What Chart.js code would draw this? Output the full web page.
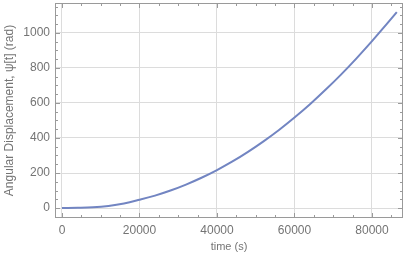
<!DOCTYPE html>
<html>
<head>
<meta charset="utf-8">
<script src="https://cdn.jsdelivr.net/npm/chart.js@4.4.1/dist/chart.umd.min.js"></script>
<style>
    html, body { margin: 0; padding: 0; background: #fff; }
    #wrap { width: 409px; height: 254px; }
</style>
</head>
<body>
<div id="wrap"><canvas id="chart" width="409" height="254"></canvas></div>
<script>
const timeValues = [0, 4000, 8000, 12000, 16000, 20000, 24000, 28000, 32000, 36000, 40000, 44000, 48000, 52000, 56000, 60000, 64000, 68000, 72000, 76000, 80000, 84000, 86400];
const psiValues = [0, 1, 4, 12, 26, 47, 71, 100, 134, 173, 217, 266, 321, 381, 446, 517, 593, 675, 762, 855, 953, 1056, 1119];
const xTickValues = [0, 20000, 40000, 60000, 80000];
const yTickValues = [0, 200, 400, 600, 800, 1000];
const xMinorStep = 5000;
const yMinorStep = 50;

const axisFont = "'Liberation Sans', Arial, sans-serif";
const frameColor = '#9a9a9a';
const gridColor = '#dcdcdc';
const textColor = '#747474';

const keepTicks = (values) => (scale) => {
    scale.ticks = values.map((v) => ({ value: v }));
};

// mathematica style frame with inward ticks on all four sides
const framePlugin = {
    id: 'frame',
    afterDatasetsDraw(chart) {
        const { ctx, chartArea: a, scales } = chart;
        ctx.save();
        ctx.strokeStyle = frameColor;
        ctx.lineWidth = 1;
        ctx.strokeRect(a.left + 0.5, a.top + 0.5, a.right - a.left - 1, a.bottom - a.top - 1);

        const xs = scales.x;
        const ys = scales.y;
        ctx.beginPath();
        for (let v = Math.ceil(xs.min / xMinorStep) * xMinorStep; v <= xs.max; v += xMinorStep) {
            const px = Math.round(xs.getPixelForValue(v)) + 0.5;
            const len = xTickValues.includes(v) ? 5 : 3;
            ctx.moveTo(px, a.bottom); ctx.lineTo(px, a.bottom - len);
            ctx.moveTo(px, a.top); ctx.lineTo(px, a.top + len);
        }
        for (let v = Math.ceil(ys.min / yMinorStep) * yMinorStep; v <= ys.max; v += yMinorStep) {
            const py = Math.round(ys.getPixelForValue(v)) + 0.5;
            const len = yTickValues.includes(v) ? 5 : 3;
            ctx.moveTo(a.left, py); ctx.lineTo(a.left + len, py);
            ctx.moveTo(a.right, py); ctx.lineTo(a.right - len, py);
        }
        ctx.stroke();
        ctx.restore();
    },
};

new Chart(document.getElementById('chart'), {
    type: 'line',
    data: {
        datasets: [{
            label: 'psi',
            data: timeValues.map((t, i) => ({ x: t, y: psiValues[i] })),
            borderColor: '#7285c2',
            borderWidth: 2,
            pointRadius: 0,
            fill: false,
            tension: 0.4,
        }],
    },
    options: {
        responsive: false,
        animation: false,
        layout: { padding: { left: 2, right: 6, top: 3, bottom: 0 } },
        plugins: { legend: { display: false }, tooltip: { enabled: false } },
        scales: {
            x: {
                type: 'linear',
                min: -1800,
                max: 88000,
                afterBuildTicks: keepTicks(xTickValues),
                afterFit: (s) => { s.height = 36; s.paddingLeft = 0; s.paddingRight = 0; },
                grid: { color: gridColor, drawTicks: false },
                border: { display: false },
                ticks: { color: textColor, padding: 5, maxRotation: 0, font: { family: axisFont, size: 12 }, callback: (v) => String(v) },
                title: { display: true, text: 'time (s)', color: textColor, padding: { top: 0, bottom: 0 }, font: { family: axisFont, size: 11 } },
            },
            y: {
                type: 'linear',
                min: -57,
                max: 1171,
                afterBuildTicks: keepTicks(yTickValues),
                afterFit: (s) => { s.width = 53; s.paddingTop = 0; s.paddingBottom = 0; },
                grid: { color: gridColor, drawTicks: false },
                border: { display: false },
                ticks: { color: textColor, padding: 5, font: { family: axisFont, size: 12 }, callback: (v) => String(v) },
                title: { display: true, text: 'Angular Displacement, ψ[t] (rad)', color: textColor, padding: { top: 0, bottom: 0 }, font: { family: axisFont, size: 12 } },
            },
        },
    },
    plugins: [framePlugin],
});
</script>
</body>
</html>
